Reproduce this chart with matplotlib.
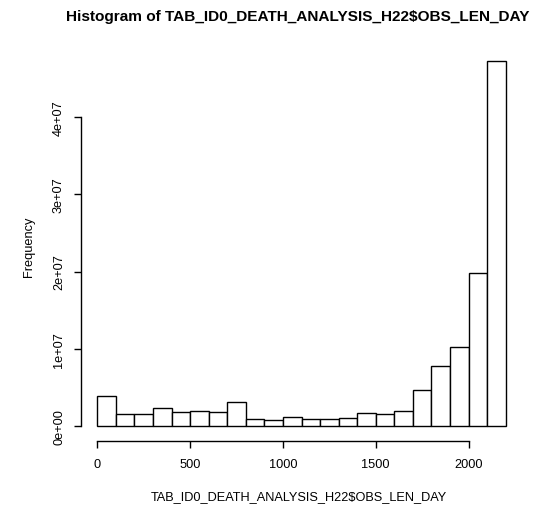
import numpy as np
import matplotlib
matplotlib.use("Agg")
from matplotlib import pyplot as plt

plt.rcParams['font.family'] = ['Liberation Sans', 'DejaVu Sans']

# histogram bins (days) and counts
bin_edges = list(range(0, 2300, 100))
counts = [3.97e6, 1.55e6, 1.55e6, 2.33e6, 1.90e6, 2.03e6, 1.86e6, 3.16e6,
          0.96e6, 0.83e6, 1.16e6, 0.96e6, 0.96e6, 1.09e6, 1.68e6, 1.55e6,
          2.03e6, 4.71e6, 7.82e6, 10.28e6, 19.77e6, 47.25e6]
x_ticks = [0, 500, 1000, 1500, 2000]
y_ticks = [0, 1e7, 2e7, 3e7, 4e7]
y_labels = ["0e+00", "1e+07", "2e+07", "3e+07", "4e+07"]

W, H = 537, 506
fs = 9.2
fig = plt.figure(figsize=(W / 100, H / 100), dpi=100)
ax = fig.add_axes([81/W, 1 - 442/H, (522 - 81)/W, (442 - 47)/H])

lefts = np.array(bin_edges[:-1])
widths = np.diff(bin_edges)
ax.bar(lefts, counts, width=widths, align='edge', facecolor='white',
       edgecolor='black', linewidth=1.0)

# R style: 4% padding on both axes
xr = bin_edges[-1] - bin_edges[0]
ax.set_xlim(bin_edges[0] - 0.04 * xr, bin_edges[-1] + 0.04 * xr)
yr = max(counts)
ax.set_ylim(-0.04 * yr, yr * 1.04)

for s in ['top', 'right']:
    ax.spines[s].set_visible(False)
ax.spines['left'].set_bounds(y_ticks[0], y_ticks[-1])
ax.spines['bottom'].set_bounds(x_ticks[0], x_ticks[-1])
ax.spines['left'].set_linewidth(1.0)
ax.spines['bottom'].set_linewidth(1.0)

ax.set_xticks(x_ticks)
ax.set_xticklabels([str(t) for t in x_ticks], fontsize=fs)
ax.set_yticks(y_ticks)
ax.set_yticklabels(y_labels, fontsize=fs, rotation=90, va='center')
ax.tick_params(length=5, width=1.0)
ax.tick_params(axis='x', pad=7.5)
ax.tick_params(axis='y', pad=6.5)

fig.text(298/W, 1 - 17/H, "Histogram of TAB_ID0_DEATH_ANALYSIS_H22$OBS_LEN_DAY",
         fontsize=fs * 1.2, fontweight='bold', ha='center', va='center')
fig.text(299/W, 1 - 497/H, "TAB_ID0_DEATH_ANALYSIS_H22$OBS_LEN_DAY",
         fontsize=fs, ha='center', va='center')
fig.text(29/W, 1 - 247/H, "Frequency", fontsize=fs, rotation=90,
         ha='center', va='center')

fig.savefig("out.png", dpi=100, facecolor='white')
